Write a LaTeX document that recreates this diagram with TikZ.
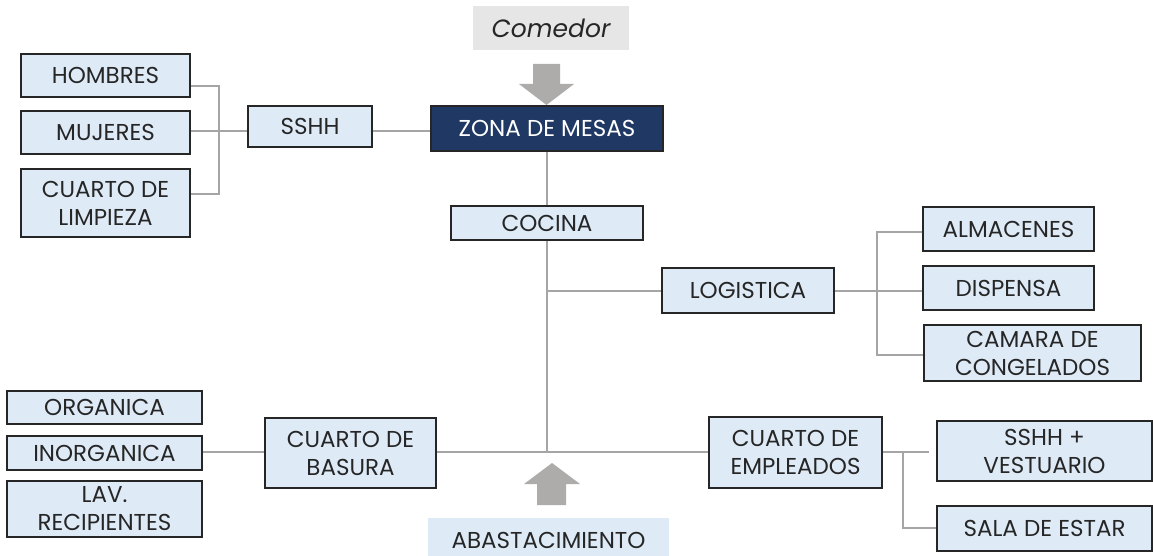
\documentclass[tikz,border=0pt]{standalone}
\usepackage{fontspec}
\setmainfont{Poppins}
\definecolor{boxfill}{HTML}{DEEBF7}
\definecolor{boxline}{HTML}{262626}
\definecolor{txt}{HTML}{262626}
\definecolor{navy}{HTML}{1F3864}
\definecolor{conn}{HTML}{A5A5A5}
\definecolor{lgray}{HTML}{E7E6E6}
\definecolor{arrowgray}{HTML}{AEABAB}
\begin{document}
\begin{tikzpicture}[x=1pt,y=-1pt,
  box/.style={draw=boxline, line width=1.5pt, fill=boxfill, text=txt, align=center,
    inner sep=0pt, font=\fontsize{23}{28}\selectfont},
  dark/.style={box, fill=navy, text=white},
  plainbox/.style={fill=#1, text=txt, align=center, inner sep=0pt, font=\fontsize{23}{28}\selectfont},
  wire/.style={draw=conn, line width=1.2pt},
  blockarrow/.style={fill=arrowgray, draw=none}]
\useasboundingbox (0,0) rectangle (1153,556);

% nodes
\node[box, minimum width=169pt, minimum height=43pt] (hombres) at (105.5,75.5) {HOMBRES};
\node[box, minimum width=169pt, minimum height=43pt] (mujeres) at (105.5,132.5) {MUJERES};
\node[box, minimum width=169pt, minimum height=68pt] (limpieza) at (105.5,203) {CUARTO DE\\LIMPIEZA};
\node[box, minimum width=124pt, minimum height=41pt] (sshh) at (310,126.5) {SSHH};
\node[dark, minimum width=232pt, minimum height=45pt] (zona) at (547,128.5) {ZONA DE MESAS};
\node[plainbox=lgray, minimum width=156pt, minimum height=44pt, font=\fontsize{25}{28}\selectfont\itshape] (comedor) at (551,28) {Comedor};
\node[box, minimum width=192pt, minimum height=34pt] (cocina) at (547,223) {COCINA};
\node[box, minimum width=172pt, minimum height=45pt] (logistica) at (748,290.5) {LOGISTICA};
\node[box, minimum width=171pt, minimum height=44pt] (almacenes) at (1008.5,229) {ALMACENES};
\node[box, minimum width=171pt, minimum height=44pt] (dispensa) at (1008.5,288) {DISPENSA};
\node[box, minimum width=217pt, minimum height=56pt] (camara) at (1032.5,353) {CAMARA DE\\CONGELADOS};
\node[box, minimum width=195pt, minimum height=33pt] (organica) at (104.5,407.5) {ORGANICA};
\node[box, minimum width=195pt, minimum height=34pt] (inorganica) at (104.5,453) {INORGANICA};
\node[box, minimum width=195pt, minimum height=56pt] (lav) at (104.5,509) {LAV.\\RECIPIENTES};
\node[box, minimum width=171pt, minimum height=70pt] (basura) at (350.5,453) {CUARTO DE\\BASURA};
\node[box, minimum width=173pt, minimum height=71pt] (empleados) at (795.5,452.5) {CUARTO DE\\EMPLEADOS};
\node[box, minimum width=215pt, minimum height=60pt] (sshhv) at (1044.5,451) {SSHH +\\VESTUARIO};
\node[box, minimum width=215pt, minimum height=45pt] (sala) at (1044.5,528.5) {SALA DE ESTAR};
\node[plainbox=boxfill, minimum width=241pt, minimum height=44pt] (abast) at (548.5,540) {ABASTACIMIENTO};

% helper coordinates
\coordinate (lyA) at (219,86);
\coordinate (lyB) at (219,194);
\coordinate (ly) at (0,131);
\coordinate (tb) at (547,452);
\coordinate (tl) at (547,291);
\coordinate (rA) at (877,232);
\coordinate (rB) at (877,355);
\coordinate (eA) at (903,452);
\coordinate (eB) at (903,528);

% connectors
\draw[wire] (hombres.east |- lyA) -- (lyA) -- (lyB) -- (limpieza.east |- lyB);
\draw[wire] (mujeres.east |- ly) -- (sshh.west |- ly);
\draw[wire] (sshh.east |- ly) -- (zona.west |- ly);
\draw[wire] (zona.south) -- (cocina.north);
\draw[wire] (cocina.south) -- (tb);
\draw[wire] (tl) -- (logistica.west |- tl);
\draw[wire] (logistica.east |- tl) -- (dispensa.west |- tl);
\draw[wire] (almacenes.west |- rA) -- (rA) -- (rB) -- (camara.west |- rB);
\draw[wire] (inorganica.east |- tb) -- (basura.west |- tb);
\draw[wire] (basura.east |- tb) -- (empleados.west |- tb);
\draw[wire, shorten >=7pt] (empleados.east |- tb) -- (sshhv.west |- tb);
\draw[wire] (eA) -- (eB) -- (sala.west |- eB);

% block arrows
\fill[blockarrow] (533,64) -- (560,64) -- (560,84) -- (574,84) -- (546.5,105) -- (519,84) -- (533,84) -- cycle;
\fill[blockarrow] (537,505) -- (566,505) -- (566,484) -- (580,484) -- (552,463) -- (524,484) -- (537,484) -- cycle;
\end{tikzpicture}
\end{document}
